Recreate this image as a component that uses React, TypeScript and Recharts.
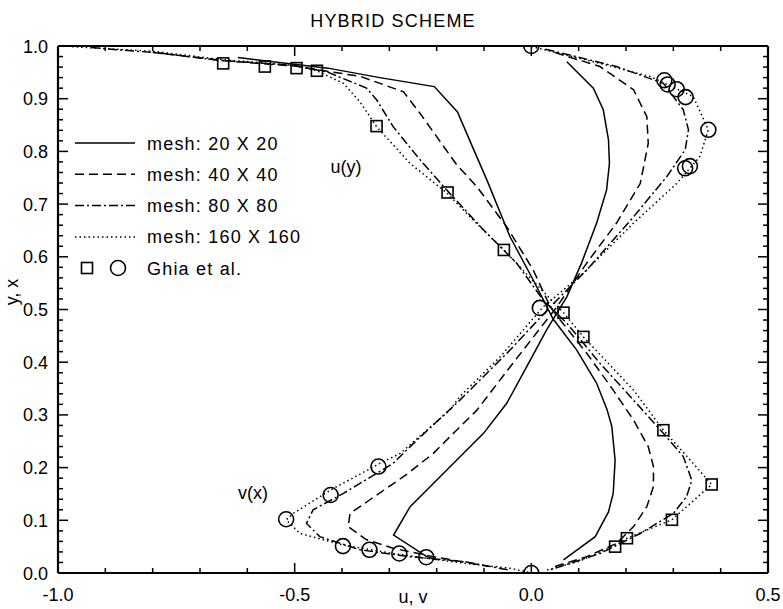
import React from "react"
import { ScatterChart, Scatter, XAxis, YAxis, ReferenceLine } from "recharts"

type Pt = [number, number]

// u(y) profiles: [u, y]
const mesh20U: Pt[] = [
  [-0.62, 0.978], [-0.43, 0.958], [-0.32, 0.94], [-0.205, 0.923], [-0.156, 0.875],
  [-0.125, 0.81], [-0.094, 0.746], [-0.045, 0.638], [0.004, 0.556], [0.046, 0.482],
  [0.096, 0.423], [0.138, 0.36], [0.16, 0.31], [0.17, 0.278], [0.177, 0.214],
  [0.173, 0.151], [0.163, 0.116], [0.135, 0.069], [0.068, 0.025],
]
const mesh40U: Pt[] = [
  [-0.8, 0.988], [-0.65, 0.972], [-0.5, 0.962], [-0.36, 0.942], [-0.27, 0.913],
  [-0.235, 0.872], [-0.2, 0.828], [-0.158, 0.775], [-0.115, 0.733], [-0.052, 0.657],
  [0.004, 0.575], [0.04, 0.505], [0.061, 0.48], [0.117, 0.417], [0.173, 0.347],
  [0.216, 0.29], [0.247, 0.24], [0.258, 0.202], [0.258, 0.164], [0.244, 0.126],
  [0.216, 0.088], [0.18, 0.056], [0.117, 0.031], [0.05, 0.0125],
]
const mesh80U: Pt[] = [
  [-0.93, 0.997], [-0.79, 0.987], [-0.66, 0.973], [-0.5, 0.963], [-0.432, 0.951],
  [-0.348, 0.92], [-0.327, 0.898], [-0.292, 0.847], [-0.235, 0.784], [-0.179, 0.727],
  [-0.101, 0.651], [-0.031, 0.588], [0.025, 0.518], [0.075, 0.474], [0.145, 0.398],
  [0.216, 0.328], [0.279, 0.265], [0.321, 0.221], [0.339, 0.176], [0.328, 0.145],
  [0.3, 0.113], [0.23, 0.075], [0.145, 0.037], [0.04, 0.006],
]
const mesh160U: Pt[] = [
  [-0.97, 0.9985], [-0.8, 0.99], [-0.65, 0.974], [-0.5, 0.963], [-0.453, 0.953],
  [-0.397, 0.929], [-0.362, 0.894], [-0.327, 0.847], [-0.256, 0.777], [-0.177, 0.72],
  [-0.123, 0.67], [-0.058, 0.613], [0.005, 0.553], [0.068, 0.494], [0.11, 0.448],
  [0.216, 0.347], [0.279, 0.271], [0.33, 0.22], [0.381, 0.168], [0.297, 0.101],
  [0.202, 0.066], [0.177, 0.052], [0.1, 0.022], [0.03, 0.005],
]

// v(x) profiles: [v, x]
const mesh20V: Pt[] = [
  [0.075, 0.97], [0.131, 0.92], [0.152, 0.879], [0.163, 0.822], [0.165, 0.777],
  [0.159, 0.727], [0.138, 0.664], [0.106, 0.588], [0.075, 0.524], [0.032, 0.461],
  [-0.01, 0.391], [-0.052, 0.322], [-0.101, 0.265], [-0.158, 0.214], [-0.207, 0.17],
  [-0.256, 0.126], [-0.291, 0.072], [-0.221, 0.031], [-0.2, 0.025],
]
const mesh40V: Pt[] = [
  [0.05, 0.9875], [0.145, 0.961], [0.216, 0.917], [0.244, 0.866], [0.247, 0.815],
  [0.23, 0.739], [0.18, 0.664], [0.117, 0.588], [0.054, 0.505], [-0.045, 0.391],
  [-0.115, 0.309], [-0.158, 0.271], [-0.207, 0.227], [-0.265, 0.186], [-0.341, 0.139],
  [-0.383, 0.113], [-0.387, 0.088], [-0.348, 0.063], [-0.292, 0.047], [-0.207, 0.031],
  [-0.09, 0.0125],
]
const mesh80V: Pt[] = [
  [0.03, 0.994], [0.18, 0.961], [0.279, 0.929], [0.321, 0.879], [0.332, 0.841],
  [0.325, 0.803], [0.286, 0.752], [0.216, 0.676], [0.117, 0.575], [0.04, 0.505],
  [-0.045, 0.423], [-0.151, 0.328], [-0.242, 0.252], [-0.292, 0.208], [-0.397, 0.151],
  [-0.461, 0.12], [-0.475, 0.094], [-0.447, 0.069], [-0.362, 0.044], [-0.256, 0.031],
  [-0.137, 0.021], [-0.05, 0.006],
]
const mesh160V: Pt[] = [
  [0.0, 0.999], [0.032, 0.992], [0.145, 0.967], [0.251, 0.942], [0.342, 0.904],
  [0.374, 0.841], [0.356, 0.79], [0.307, 0.739], [0.216, 0.664], [0.11, 0.569],
  [0.025, 0.505], [-0.066, 0.41], [-0.151, 0.335], [-0.172, 0.309], [-0.277, 0.227],
  [-0.32, 0.208], [-0.425, 0.157], [-0.503, 0.113], [-0.518, 0.101], [-0.489, 0.075],
  [-0.397, 0.053], [-0.292, 0.037], [-0.221, 0.028], [-0.137, 0.018], [-0.045, 0.009],
  [0.0, 0.0],
]

// Ghia et al. reference points
const ghiaU: Pt[] = [
  [-0.651, 0.967], [-0.563, 0.961], [-0.496, 0.958], [-0.453, 0.953], [-0.327, 0.848],
  [-0.177, 0.722], [-0.058, 0.613], [0.068, 0.494], [0.11, 0.448], [0.279, 0.271],
  [0.381, 0.168], [0.297, 0.101], [0.202, 0.066], [0.177, 0.05],
]
const ghiaV: Pt[] = [
  [0.0, 1.0], [0.281, 0.935], [0.288, 0.927], [0.307, 0.918], [0.326, 0.903],
  [0.374, 0.841], [0.335, 0.772], [0.325, 0.768], [0.018, 0.503], [-0.323, 0.202],
  [-0.424, 0.148], [-0.518, 0.102], [-0.398, 0.051], [-0.342, 0.044], [-0.279, 0.037],
  [-0.222, 0.03], [0.0, 0.0],
]

const xTicks = [-1.0, -0.9, -0.8, -0.7, -0.6, -0.5, -0.4, -0.3, -0.2, -0.1, 0.0, 0.1, 0.2, 0.3, 0.4, 0.5]
const yTicks = [
  0, 0.02, 0.04, 0.06, 0.08, 0.1, 0.12, 0.14, 0.16, 0.18, 0.2, 0.22, 0.24, 0.26, 0.28,
  0.3, 0.32, 0.34, 0.36, 0.38, 0.4, 0.42, 0.44, 0.46, 0.48, 0.5, 0.52, 0.54, 0.56, 0.58,
  0.6, 0.62, 0.64, 0.66, 0.68, 0.7, 0.72, 0.74, 0.76, 0.78, 0.8, 0.82, 0.84, 0.86, 0.88,
  0.9, 0.92, 0.94, 0.96, 0.98, 1.0,
]

const meshLabels = ["mesh: 20 X 20", "mesh: 40 X 40", "mesh: 80 X 80", "mesh: 160 X 160"]
const DASHES = [undefined, "9 5", "9 3 2 3", "1.5 3"]

const W = 783
const H = 609
const LEFT = 58
const RIGHT = 768
const TOP = 46
const BOTTOM = 573
const FONT = '"Liberation Sans", Arial, Helvetica, sans-serif'

const toRows = (pts: Pt[]) => pts.map(([vel, pos]) => ({ vel, pos }))

const NoDot = () => <g />

const SquareMark = (p: any) => (
  <rect x={p.cx - 5.5} y={p.cy - 5.5} width={11} height={11} fill="none" stroke="#000" strokeWidth={1.6} />
)
const CircleMark = (p: any) => (
  <circle cx={p.cx} cy={p.cy} r={7.5} fill="none" stroke="#000" strokeWidth={1.6} />
)

function XTick(props: any) {
  const { x, payload } = props
  const v = payload.value
  const major = Math.abs(v * 2 - Math.round(v * 2)) < 1e-6
  const len = major ? 10 : 5
  return (
    <g>
      <line x1={x} x2={x} y1={BOTTOM} y2={BOTTOM - len} stroke="#000" strokeWidth={1.5} />
      <line x1={x} x2={x} y1={TOP} y2={TOP + len} stroke="#000" strokeWidth={1.5} />
      {major && (
        <text x={x} y={BOTTOM + 28} textAnchor="middle" fontSize={18} fontFamily={FONT} fill="#000">
          {v.toFixed(1)}
        </text>
      )}
    </g>
  )
}

function YTick(props: any) {
  const { y, payload } = props
  const v = payload.value
  const major = Math.abs(v * 10 - Math.round(v * 10)) < 1e-6
  const len = major ? 10 : 5
  return (
    <g>
      <line x1={LEFT} x2={LEFT + len} y1={y} y2={y} stroke="#000" strokeWidth={1.5} />
      <line x1={RIGHT} x2={RIGHT - len} y1={y} y2={y} stroke="#000" strokeWidth={1.5} />
      {major && (
        <text x={LEFT - 10} y={y + 6.5} textAnchor="end" fontSize={18} fontFamily={FONT} fill="#000">
          {v.toFixed(1)}
        </text>
      )}
    </g>
  )
}

export default function App() {
  const curves = [
    [mesh20U, mesh20V],
    [mesh40U, mesh40V],
    [mesh80U, mesh80V],
    [mesh160U, mesh160V],
  ]

  return (
    <div style={{ position: "absolute", left: 0, top: 0, width: W, height: H, background: "#fff" }}>
      <ScatterChart width={W} height={H} margin={{ top: TOP, right: W - RIGHT, bottom: 0, left: 0 }} style={{ fontFamily: FONT }}>
        <XAxis
          type="number"
          dataKey="vel"
          domain={[-1, 0.5]}
          allowDataOverflow
          ticks={xTicks}
          interval={0}
          height={H - BOTTOM}
          tickSize={0}
          tickMargin={0}
          tickLine={false}
          tick={XTick}
          axisLine={{ stroke: "#000", strokeWidth: 2.2 }}
        />
        <YAxis
          type="number"
          dataKey="pos"
          domain={[0, 1]}
          allowDataOverflow
          ticks={yTicks}
          interval={0}
          width={LEFT}
          tickSize={0}
          tickMargin={0}
          tickLine={false}
          tick={YTick}
          axisLine={{ stroke: "#000", strokeWidth: 2.2 }}
        />
        <ReferenceLine y={1} stroke="#000" strokeWidth={2.2} />
        <ReferenceLine x={0.5} stroke="#000" strokeWidth={2.2} />

        {curves.map(([u, v], i) => [
          <Scatter
            key={`u${i}`}
            data={toRows(u)}
            fill="#000"
            line={{ stroke: "#000", strokeWidth: 1.5, strokeDasharray: DASHES[i] }}
            shape={NoDot}
            isAnimationActive={false}
          />,
          <Scatter
            key={`v${i}`}
            data={toRows(v)}
            fill="#000"
            line={{ stroke: "#000", strokeWidth: 1.5, strokeDasharray: DASHES[i] }}
            shape={NoDot}
            isAnimationActive={false}
          />,
        ])}

        <Scatter data={toRows(ghiaU)} fill="none" shape={SquareMark} isAnimationActive={false} />
        <Scatter data={toRows(ghiaV)} fill="none" shape={CircleMark} isAnimationActive={false} />

        <text x={393} y={27} textAnchor="middle" fontSize={18} letterSpacing={1.2} fontFamily={FONT} fill="#000">
          HYBRID SCHEME
        </text>
        <text x={413} y={603} textAnchor="middle" fontSize={18} fontFamily={FONT} fill="#000">
          u, v
        </text>
        <text
          x={18}
          y={292}
          textAnchor="middle"
          fontSize={18}
          fontFamily={FONT}
          fill="#000"
          transform="rotate(-90 18 292)"
        >
          y, x
        </text>
        <text x={346} y={173} textAnchor="middle" fontSize={18} fontFamily={FONT} fill="#000">
          u(y)
        </text>
        <text x={253} y={499} textAnchor="middle" fontSize={18} fontFamily={FONT} fill="#000">
          v(x)
        </text>

        {meshLabels.map((label, i) => {
          const y = 143 + i * 31.3
          return (
            <g key={label}>
              <line x1={75} x2={135} y1={y} y2={y} stroke="#000" strokeWidth={1.5} strokeDasharray={DASHES[i]} />
              <text x={147} y={y + 6.5} fontSize={18} letterSpacing={1.2} fontFamily={FONT} fill="#000">
                {label}
              </text>
            </g>
          )
        })}
        <rect x={81.5} y={262.5} width={11} height={11} fill="none" stroke="#000" strokeWidth={1.6} />
        <circle cx={118} cy={268} r={7.5} fill="none" stroke="#000" strokeWidth={1.6} />
        <text x={147} y={274.5} fontSize={18} letterSpacing={1.2} fontFamily={FONT} fill="#000">
          Ghia et al.
        </text>
      </ScatterChart>
    </div>
  )
}
